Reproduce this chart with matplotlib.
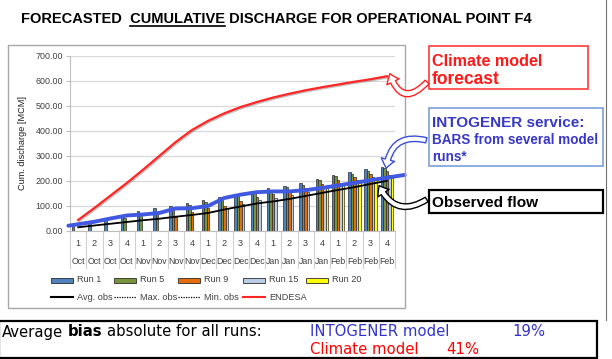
import matplotlib
matplotlib.use('Agg')
import matplotlib.pyplot as plt
import matplotlib.patheffects as pe
import numpy as np
from matplotlib.patches import Rectangle, FancyArrowPatch
from matplotlib.lines import Line2D

W, H = 612, 359
nan = np.nan

weeks = ['1', '2', '3', '4'] * 5
months = ['Oct'] * 4 + ['Nov'] * 4 + ['Dec'] * 4 + ['Jan'] * 4 + ['Feb'] * 4

run1 = [24, 30, 44, 59, 78, 90, 101, 113, 124, 134, 146, 158, 170, 180, 191, 207, 223, 234, 246, 256]
run5 = [nan, nan, nan, 50, 66, 77, 90, 104, 114, 124, 141, 154, 163, 174, 185, 202, 218, 228, 240, 250]
run9 = [nan, nan, nan, nan, nan, nan, 57, 77, 93, 101, 120, 137, 146, 157, 170, 186, 203, 216, 227, 239]
run15 = [nan, nan, nan, nan, nan, nan, nan, nan, nan, 92, 108, 124, 133, 143, 157, 177, 190, 203, 214, 223]
run20 = [nan] * 15 + [170, 183, 196, 207, 210]

avg_obs = [15, 22, 29, 36, 43, 49, 57, 64, 72, 86, 98, 110, 118, 128, 140, 152, 164, 175, 188, 200]
endesa = [44, 92, 142, 192, 245, 300, 355, 403, 440, 470, 495, 515, 533, 548, 562, 574, 585, 596, 606, 618]
intogener = [27, 37, 50, 62, 66, 72, 90, 91, 100, 132, 145, 155, 158, 158, 163, 172, 182, 192, 203, 213]

runs = [run1, run5, run9, run15, run20]
run_names = ['Run 1', 'Run 5', 'Run 9', 'Run 15', 'Run 20']
run_colors = ['#4F81BD', '#77933C', '#E46C0A', '#B9CDE5', '#FFFF00']
line_names = ['Avg. obs', 'Max. obs', 'Min. obs', 'ENDESA']

yticks = [0, 100, 200, 300, 400, 500, 600, 700]

bias_intogener = '19%'
bias_climate = '41%'

FONT = 'Liberation Sans'
plt.rcParams['font.family'] = [FONT, 'DejaVu Sans']

fig = plt.figure(figsize=(W / 100, H / 100), dpi=100)
fig.patch.set_facecolor('white')
R = fig.canvas.get_renderer()


def fx(x):
    return x / W


def fy(y):
    return 1 - y / H


def twidth(s, size, weight='normal', family=FONT):
    t = fig.text(0, 0, s, fontsize=size, fontweight=weight, family=family)
    w = t.get_window_extent(R).width
    t.remove()
    return w


def fitted(x, y, s, target_w, color='black', weight='normal', family=FONT, ha='left', va='center', base=10):
    w = twidth(s, base, weight, family)
    size = base * target_w / w
    t = fig.text(fx(x), fy(y), s, fontsize=size, fontweight=weight, family=family,
                 color=color, ha=ha, va=va)
    return t, size


# ---------------- Title -----------------
title = 'FORECASTED  CUMULATIVE DISCHARGE FOR OPERATIONAL POINT F4'
tx0 = 21
tt, tsize = fitted(tx0, 19, title, 506, weight='bold')
wpre = twidth('FORECASTED  CUMULATIVE', tsize, 'bold')
wcum = twidth('CUMULATIVE', tsize, 'bold')
fig.add_artist(Line2D([fx(tx0 + wpre - wcum), fx(tx0 + wpre)], [fy(26), fy(26)],
                      color='black', lw=1.2, transform=fig.transFigure))

# ---------------- Chart frame -----------------
fig.add_artist(Rectangle((fx(8), fy(308)), fx(405) - fx(8), fy(45) - fy(308),
                         transform=fig.transFigure, fill=False, edgecolor='#A6A6A6', lw=1))

# ---------------- Axes -----------------
ax_l, ax_r, ax_t, ax_b = 70, 395, 55.7, 231
ax = fig.add_axes([fx(ax_l), fy(ax_b), fx(ax_r) - fx(ax_l), fy(ax_t) - fy(ax_b)])
ax.set_facecolor('none')
n = len(weeks)
x = np.arange(n)
ax.set_xlim(-0.5, n - 0.5)
ax.set_ylim(0, 700)
ax.set_yticks(yticks)
ax.set_yticklabels(['%.2f' % v for v in yticks], fontsize=6.4, color='#404040')
ax.tick_params(axis='y', length=3, color='#BFBFBF', pad=2)
ax.set_xticks([])
ax.grid(axis='y', color='#D9D9D9', lw=0.9)
ax.set_axisbelow(True)
for s in ['top', 'right']:
    ax.spines[s].set_visible(False)
ax.spines['left'].set_color('#BFBFBF')
ax.spines['bottom'].set_color('#BFBFBF')
ax.set_ylabel('Cum. discharge [MCM]', fontsize=6.6, color='#202020', labelpad=6)

bw = 0.155
for k, (vals, c) in enumerate(zip(runs, run_colors)):
    ax.bar(x + (k - 2) * bw, vals, width=bw, color=c, edgecolor='#2B2B2B', lw=0.5, zorder=2)

# category table below axis
hpx = ax_b - ax_t
tb = -(268 - 231) / hpx
for b in np.arange(-0.5, n, 1.0):
    ax.plot([b, b], [0, tb], transform=ax.get_xaxis_transform(), color='#D0D0D0',
            lw=0.8, clip_on=False)
for i in range(n):
    ax.text(x[i], -(243 - 231) / hpx, weeks[i], transform=ax.get_xaxis_transform(),
            ha='center', va='center', fontsize=6.6, color='#404040')
    ax.text(x[i], -(261 - 231) / hpx, months[i], transform=ax.get_xaxis_transform(),
            ha='center', va='center', fontsize=6.3, color='#404040')

# lines
ax.plot(x, endesa, color='#FF2626', lw=1.6, zorder=4,
        path_effects=[pe.SimpleLineShadow(offset=(0.8, -0.8), shadow_color='gray', alpha=0.5), pe.Normal()])
ax.plot(x, avg_obs, color='black', lw=1.3, zorder=4)
# INTOGENER overlay line, extended slightly past first/last category
bx = np.concatenate([[-0.6], x, [20.1]])
by = np.concatenate([[intogener[0] - 0.6 * (intogener[1] - intogener[0])], intogener,
                     [intogener[-1] + 1.1 * (intogener[-1] - intogener[-2])]])
ax.plot(bx, by, color='#4159E0', lw=2.8, zorder=5, clip_on=False, solid_capstyle='round')

# ---------------- Legend (drawn manually) -----------------
leg_fs = 6.6
row1_x = [51, 114, 178, 243, 306]
for xx, name, c in zip(row1_x, run_names, run_colors):
    fig.add_artist(Rectangle((fx(xx), fy(282.5)), fx(22), fy(0) - fy(5),
                             transform=fig.transFigure, facecolor=c, edgecolor='#2B2B2B', lw=0.6))
    fig.text(fx(xx + 26), fy(280), name, fontsize=leg_fs, color='#404040', ha='left', va='center')
row2_x = [51, 114, 178, 243]
row2_style = [dict(color='black', lw=1.5, ls='-'),
              dict(color='black', lw=0.9, ls=(0, (1, 1))),
              dict(color='black', lw=0.9, ls=(0, (1, 1))),
              dict(color='#FF2626', lw=1.5, ls='-')]
for xx, name, st in zip(row2_x, line_names, row2_style):
    fig.add_artist(Line2D([fx(xx), fx(xx + 22)], [fy(297), fy(297)], transform=fig.transFigure, **st))
    fig.text(fx(xx + 26), fy(297), name, fontsize=leg_fs, color='#404040', ha='left', va='center')

# ---------------- Annotation boxes -----------------
fig.add_artist(Rectangle((fx(429), fy(89)), fx(588) - fx(429), fy(46) - fy(89),
                         transform=fig.transFigure, fill=False, edgecolor='#FF3B3B', lw=1.2))
fitted(432, 61, 'Climate model', 110, color='#FF1A1A', weight='bold')
fitted(432, 79, 'forecast', 68, color='#FF1A1A', weight='bold')

fig.add_artist(Rectangle((fx(429), fy(166)), fx(603) - fx(429), fy(108) - fy(166),
                         transform=fig.transFigure, fill=False, edgecolor='#7AA0DA', lw=1.2))
blue_txt = '#3838C8'
fitted(432, 123, 'INTOGENER service:', 152, color=blue_txt, weight='bold')
_, bsize = fitted(432, 140, 'BARS from several model', 166, color=blue_txt, weight='bold')
fig.text(fx(432), fy(157), 'runs*', fontsize=bsize, fontweight='bold', color=blue_txt,
         ha='left', va='center')

fig.add_artist(Rectangle((fx(429), fy(213)), fx(603) - fx(429), fy(190) - fy(213),
                         transform=fig.transFigure, fill=False, edgecolor='black', lw=1.6))
fitted(432, 203, 'Observed flow', 106, color='black', weight='bold')


# arrows
def arrow(p0, p1, ec, rad):
    a = FancyArrowPatch((fx(p0[0]), fy(p0[1])), (fx(p1[0]), fy(p1[1])),
                        transform=fig.transFigure,
                        arrowstyle='simple,head_width=1.4,head_length=0.9,tail_width=0.55',
                        connectionstyle='arc3,rad=%s' % rad, mutation_scale=7,
                        facecolor='white', edgecolor=ec, lw=1.0, zorder=10)
    fig.add_artist(a)


arrow((429, 80), (389, 71), '#FF2020', -0.9)
arrow((429, 141), (386, 171), '#3A4FD8', 0.6)
arrow((429, 198), (378, 183), 'black', -0.6)

# right edge line
fig.add_artist(Line2D([fx(606), fx(606)], [fy(0), fy(320)], color='#707070', lw=0.8,
                      transform=fig.transFigure))

# ---------------- Bottom bias box -----------------
fig.add_artist(Rectangle((fx(-1), fy(358)), fx(597) - fx(-1), fy(321) - fy(358),
                         transform=fig.transFigure, fill=False, edgecolor='black', lw=1.6))
BF = 'DejaVu Sans'
line1 = 'Average bias absolute for all runs:'
w_total_norm = twidth(line1, 10, family=BF)
size1 = 10 * 254 / w_total_norm
sp = twidth('x x', size1, family=BF) - twidth('xx', size1, family=BF)
xa = 2
fig.text(fx(xa), fy(332), 'Average', fontsize=size1, family=BF, ha='left', va='center')
xb = xa + twidth('Average', size1, family=BF) + sp
fig.text(fx(xb), fy(332), 'bias', fontsize=size1, family=BF, fontweight='bold', ha='left', va='center')
xc = xb + twidth('bias', size1, 'bold', BF) + sp
fig.text(fx(xc), fy(332), 'absolute for all runs:', fontsize=size1, family=BF, ha='left', va='center')

fig.text(fx(310), fy(332), 'INTOGENER model', fontsize=size1, family=BF, color='#3333CC',
         ha='left', va='center')
fig.text(fx(512), fy(332), bias_intogener, fontsize=size1, family=BF, color='#3333CC',
         ha='left', va='center')
fig.text(fx(310), fy(350), 'Climate model', fontsize=size1, family=BF, color='#FF0000',
         ha='left', va='center')
fig.text(fx(446), fy(350), bias_climate, fontsize=size1, family=BF, color='#FF0000',
         ha='left', va='center')

fig.savefig('out.png', dpi=100, facecolor='white')
